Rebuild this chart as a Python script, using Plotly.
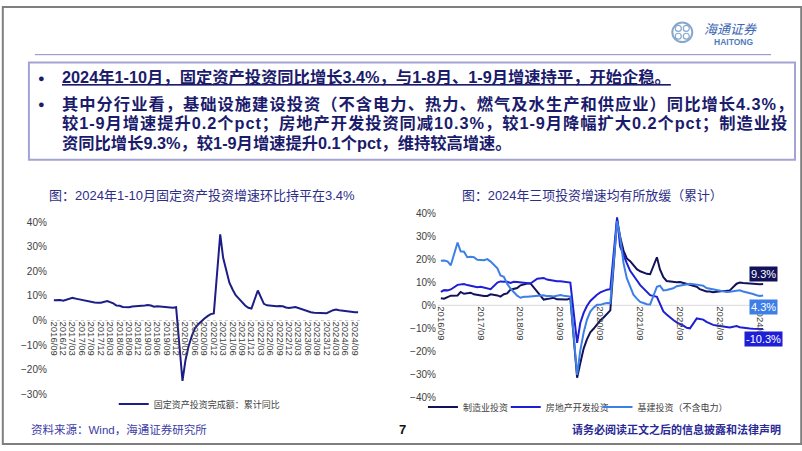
import plotly.graph_objects as go

W, H = 802, 451

# ---------------- data ----------------
# monthly cumulative YoY (Jan merged into Jan-Feb, so no January points)
months = [f"{y}-{m:02d}-01" for y in range(2016, 2025) for m in range(2, 13)
          if "2016-09" <= f"{y}-{m:02d}" <= "2024-10"]

fai = [8.2, 8.3, 8.3, 8.1,
       8.9, 9.2, 8.9, 8.6, 8.6, 8.3, 7.8, 7.5, 7.3, 7.2, 7.2,
       7.9, 7.5, 7.0, 6.1, 6.0, 5.5, 5.3, 5.4, 5.7, 5.9, 5.9,
       6.1, 6.3, 6.1, 5.6, 5.8, 5.7, 5.5, 5.4, 5.2, 5.2, 5.4,
       -24.5, -16.1, -10.3, -6.3, -3.1, -1.6, -0.3, 0.8, 1.8, 2.6, 2.9,
       35.0, 25.6, 19.9, 15.4, 12.6, 10.3, 8.9, 7.3, 6.1, 5.2, 4.9,
       12.2, 9.3, 6.8, 6.2, 6.1, 5.7, 5.8, 5.9, 5.8, 5.3, 5.1,
       5.5, 5.1, 4.7, 4.0, 3.8, 3.4, 3.2, 3.1, 2.9, 2.9, 3.0,
       4.2, 4.5, 4.2, 4.0, 3.9, 3.6, 3.4, 3.4, 3.4]

manufacturing = [3.1, 2.9, 3.6, 4.2,
                 4.3, 5.8, 5.0, 5.1, 5.5, 4.8, 4.5, 4.2, 4.1, 4.1, 4.8,
                 4.3, 3.8, 4.8, 5.2, 6.8, 7.3, 7.5, 8.7, 9.1, 9.5, 9.5,
                 5.9, 4.6, 2.5, 2.7, 3.0, 3.3, 2.6, 2.5, 2.6, 2.5, 3.1,
                 -31.5, -25.2, -18.8, -14.8, -11.7, -10.2, -8.1, -6.5, -5.3, -3.5, -2.2,
                 37.3, 29.8, 23.8, 20.4, 19.2, 17.3, 15.7, 14.8, 14.2, 13.7, 13.5,
                 20.9, 15.6, 12.2, 10.6, 10.4, 9.9, 10.0, 10.1, 9.7, 9.3, 9.1,
                 8.1, 7.0, 6.4, 6.0, 6.0, 5.7, 5.9, 6.2, 6.2, 6.3, 6.5,
                 9.4, 9.9, 9.7, 9.6, 9.5, 9.3, 9.1, 9.2, 9.3]

real_estate = [5.8, 6.6, 6.5, 6.9,
               8.9, 9.1, 9.3, 8.8, 8.5, 7.9, 7.9, 8.1, 7.8, 7.5, 7.0,
               9.9, 10.4, 10.3, 10.2, 9.7, 10.2, 10.1, 9.9, 9.7, 9.7, 9.5,
               11.6, 11.8, 11.9, 11.2, 10.9, 10.6, 10.5, 10.5, 10.3, 10.2, 9.9,
               -16.3, -7.7, -3.3, -0.3, 1.9, 3.4, 4.6, 5.6, 6.3, 6.8, 7.0,
               38.3, 25.6, 21.6, 18.3, 15.0, 12.7, 10.9, 8.8, 7.2, 6.0, 4.4,
               3.7, 0.7, -2.7, -4.0, -5.4, -6.4, -7.4, -8.0, -8.8, -9.8, -10.0,
               -5.7, -5.8, -6.2, -7.2, -7.9, -8.5, -8.8, -9.1, -9.3, -9.4, -9.6,
               -9.0, -9.5, -9.8, -10.1, -10.1, -10.2, -10.2, -10.1, -10.3]

infrastructure = [19.4, 19.5, 19.1, 17.4,
                  27.3, 23.5, 23.3, 20.9, 21.1, 20.9, 19.8, 19.8, 19.6, 20.1, 19.0,
                  16.1, 13.0, 12.4, 9.4, 7.3, 5.7, 4.2, 3.3, 3.7, 3.7, 3.8,
                  4.3, 4.4, 4.4, 4.0, 4.1, 3.8, 4.2, 4.5, 4.2, 4.0, 3.8,
                  -30.3, -19.7, -11.8, -6.3, -2.7, -1.0, 0.2, 0.2, 0.7, 1.0, 0.9,
                  36.6, 29.7, 18.4, 11.8, 7.8, 4.6, 2.9, 1.5, 1.0, 0.5, 0.4,
                  8.1, 8.5, 6.5, 6.7, 7.1, 7.4, 8.3, 8.6, 8.7, 8.9, 9.4,
                  9.0, 8.8, 8.5, 7.5, 7.2, 6.8, 6.4, 6.2, 5.9, 5.8, 5.9,
                  6.3, 6.5, 6.0, 5.7, 5.4, 4.9, 4.4, 4.1, 4.3]

name_fai = "固定资产投资完成额：累计同比"
name_mfg = "制造业投资"
name_re = "房地产开发投资"
name_infra = "基建投资（不含电力）"

c_fai = "#1d1d86"
c_mfg = "#12125a"
c_re = "#1e1ed6"
c_infra = "#3d7fe6"

FONT = "Liberation Sans, Arial, Noto Sans CJK SC, sans-serif"
CJK = "Noto Sans CJK SC, Liberation Sans, sans-serif"


def px(x):
    return x / W


def py(y):
    return 1 - y / H


# ---------------- figure ----------------
fig = go.Figure()

fig.add_trace(go.Scatter(x=months, y=fai, mode="lines", name=name_fai,
                         line=dict(color=c_fai, width=2), xaxis="x", yaxis="y",
                         legend="legend"))
fig.add_trace(go.Scatter(x=months, y=manufacturing, mode="lines", name=name_mfg,
                         line=dict(color=c_mfg, width=2), xaxis="x2", yaxis="y2",
                         legend="legend2"))
fig.add_trace(go.Scatter(x=months, y=real_estate, mode="lines", name=name_re,
                         line=dict(color=c_re, width=2), xaxis="x2", yaxis="y2",
                         legend="legend3"))
fig.add_trace(go.Scatter(x=months, y=infrastructure, mode="lines", name=name_infra,
                         line=dict(color=c_infra, width=2), xaxis="x2", yaxis="y2",
                         legend="legend4"))

# axis geometry
y1_dom = [py(399), py(222)]
y1_rng = [-30, 40]
y2_dom = [py(402), py(213)]
y2_rng = [-40, 40]
pos1 = y1_dom[0] + (y1_dom[1] - y1_dom[0]) * (0 - y1_rng[0]) / (y1_rng[1] - y1_rng[0])
pos2 = y2_dom[0] + (y2_dom[1] - y2_dom[0]) * (0 - y2_rng[0]) / (y2_rng[1] - y2_rng[0])

tickfont = dict(family=FONT, size=10, color="#404040")
xtickfont = dict(family=FONT, size=9.5, color="#404040")

legend_common = dict(orientation="h", xanchor="left", yanchor="middle",
                     bgcolor="rgba(0,0,0,0)", borderwidth=0,
                     font=dict(family=CJK, size=9, color="#404040"))

fig.update_layout(
    width=W, height=H,
    margin=dict(l=0, r=0, t=0, b=0),
    paper_bgcolor="white", plot_bgcolor="white",
    showlegend=True,
    xaxis=dict(domain=[px(49), px(360)], type="date",
               range=["2016-08-03", "2024-10-30"],
               anchor="free", position=pos1,
               tickformat="%Y/%m", dtick="M3", tick0="2016-09-01",
               tickangle=90, showgrid=False, showline=False, zeroline=False,
               ticks="", tickfont=xtickfont),
    yaxis=dict(domain=y1_dom, range=y1_rng, anchor="free", position=px(45),
               dtick=10,
               ticksuffix="%", showgrid=False, zeroline=False, showline=False,
               ticks="", tickfont=tickfont),
    xaxis2=dict(domain=[px(437), px(766)], type="date",
                range=["2016-08-05", "2024-10-28"],
                anchor="free", position=pos2,
                tickformat="%Y/%m", dtick="M12", tick0="2016-09-01",
                tickangle=90, showgrid=False, showline=False, zeroline=False,
                ticks="", tickfont=xtickfont),
    yaxis2=dict(domain=y2_dom, range=y2_rng, anchor="free", position=px(435),
                dtick=10,
                ticksuffix="%", showgrid=False, zeroline=False, showline=False,
                ticks="", tickfont=tickfont),
    legend=dict(x=px(112), y=py(409), **legend_common),
    legend2=dict(x=px(422), y=py(412), **legend_common),
    legend3=dict(x=px(505), y=py(412), **legend_common),
    legend4=dict(x=px(597), y=py(412), **legend_common),
)

shapes = [
    # zero lines
    dict(type="line", xref="x domain", yref="y", x0=0, x1=1, y0=0, y1=0,
         line=dict(color="#c8c8c8", width=1, dash="dot"), layer="below"),
    dict(type="line", xref="x2 domain", yref="y2", x0=0, x1=1, y0=0, y1=0,
         line=dict(color="#d9d9d9", width=1), layer="below"),
    # header rule
    dict(type="line", xref="paper", yref="paper", x0=px(33), x1=px(771),
         y0=py(50), y1=py(50), line=dict(color="#8a8ac8", width=1)),
    # text box
    dict(type="rect", xref="paper", yref="paper", x0=px(27), x1=px(795),
         y0=py(158), y1=py(58), line=dict(color="#a4a4d4", width=2)),
    # slide border
    dict(type="rect", xref="paper", yref="paper", x0=0.001, x1=0.999,
         y0=0.002, y1=0.998, line=dict(color="#7f7f7f", width=2)),
    # logo
    dict(type="circle", xref="paper", yref="paper", x0=px(672), x1=px(692),
         y0=py(37), y1=py(17), line=dict(color="#86a8cc", width=2)),
]
for dx, dy in [(-4, -4), (4, -4), (-4, 4), (4, 4)]:
    shapes.append(dict(type="circle", xref="paper", yref="paper",
                       x0=px(682 + dx - 3), x1=px(682 + dx + 3),
                       y0=py(27 + dy + 3), y1=py(27 + dy - 3),
                       line=dict(color="#86a8cc", width=1.2)))
fig.update_layout(shapes=shapes)

ann = []


def text(x, y, s, size, color, family=CJK, xanchor="left", **kw):
    ann.append(dict(x=px(x), y=py(y), xref="paper", yref="paper", text=s,
                    showarrow=False, xanchor=xanchor, yanchor="middle",
                    font=dict(family=family, size=size, color=color), **kw))


# logo text
text(702, 23, "<i>海通证券</i>", 13, "#3a66b4")
text(712, 37, "<b>HAITONG</b>", 8.5, "#4f7dbc", family=FONT)

# bullet text
tc = "#1b1b6c"
BF = "Liberation Sans, Arial, Noto Sans CJK SC, sans-serif"
text(34, 74, "●", 11, tc, family=BF)
text(34, 101, "●", 11, tc, family=BF)
text(58, 73, "<b><u>2024年1-10月，固定资产投资同比增长3.4%，与1-8月、1-9月增速持平，开始企稳。</u></b>", 16.3, tc, family=BF)
text(58, 101, "<b><span style='letter-spacing:1px'>其中分行业看，基础设施建设投资（不含电力、热力、燃气及水生产和供应业）同比增长4.3%，</span></b>", 16.3, tc, family=BF)
text(58, 121, "<b><span style='letter-spacing:0.95px'>较1-9月增速提升0.2个pct；房地产开发投资同减10.3%，较1-9月降幅扩大0.2个pct；制造业投</span></b>", 16.3, tc, family=BF)
text(58, 141, "<b>资同比增长9.3%，较1-9月增速提升0.1个pct，维持较高增速。</b>", 16.3, tc, family=BF)

# chart titles
text(200, 195, "图：2024年1-10月固定资产投资增速环比持平在3.4%", 13, "#2e2e88",
     family=BF, xanchor="center")
text(592, 195, "图：2024年三项投资增速均有所放缓（累计）", 12.9, "#2e2e88",
     family=BF, xanchor="center")

# footer
text(27, 435, "资料来源：Wind，海通证券研究所", 11.5, "#3c3ca6", family=BF)
text(402, 435, "<b>7</b>", 13, "#111111", family=FONT, xanchor="center")
text(783, 435, "<b>请务必阅读正文之后的信息披露和法律声明</b>", 11, "#2a2a96",
     xanchor="right")

fig.update_layout(annotations=ann)

# end-value labels
for series, color, shift in [(manufacturing, c_mfg, 10),
                             (infrastructure, c_infra, -12),
                             (real_estate, c_re, -10)]:
    fig.add_annotation(x=months[-1], y=series[-1], xref="x2", yref="y2",
                       text=f"{series[-1]:.1f}%", showarrow=False,
                       yshift=shift, bgcolor=color, borderpad=1,
                       font=dict(family=FONT, size=11, color="white"))

fig.write_html("out.html", config={"displayModeBar": False},
               post_script="document.body.style.margin='0';")
